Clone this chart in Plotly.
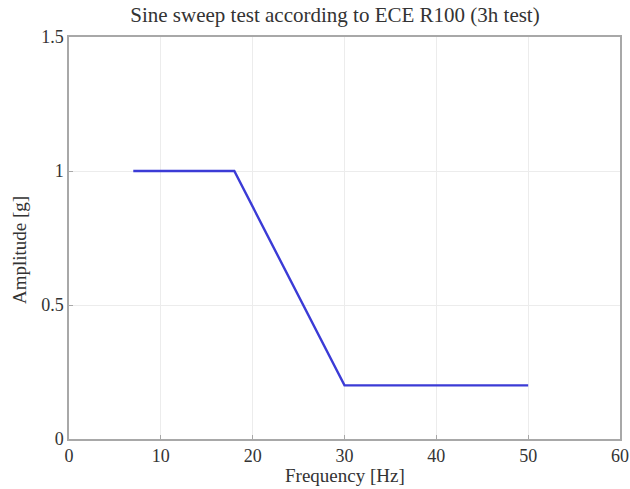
import plotly.graph_objects as go

# Sweep profile breakpoints
frequency_hz = [7, 18, 30, 50]
amplitude_g = [1.0, 1.0, 0.2, 0.2]

x_ticks = [0, 10, 20, 30, 40, 50, 60]
y_ticks = [0, 0.5, 1, 1.5]
y_tick_text = ["0", "0.5", "1", "1.5"]

font_family = "Liberation Serif, Times New Roman, serif"
text_color = "#333333"
tick_size = 18
label_size = 19

fig = go.Figure()
fig.add_trace(go.Scatter(
    x=frequency_hz,
    y=amplitude_g,
    mode="lines",
    line=dict(color="#3b3bd6", width=2.4),
    showlegend=False,
))

axis_common = dict(
    showline=True,
    linecolor="#a8a8a8",
    linewidth=1.5,
    mirror=True,
    showgrid=True,
    gridcolor="#ececec",
    gridwidth=1,
    zeroline=False,
    ticks="inside",
    ticklen=4,
    tickcolor="#a8a8a8",
    automargin=False,
    tickfont=dict(family=font_family, size=tick_size, color=text_color),
)

fig.update_xaxes(range=[0, 60], tickvals=x_ticks, **axis_common)
fig.update_yaxes(range=[0, 1.5], tickvals=y_ticks, ticktext=y_tick_text, **axis_common)

label_font = dict(family=font_family, size=label_size, color=text_color)

fig.update_layout(
    width=630,
    height=489,
    margin=dict(l=69, r=10, t=37, b=50),
    paper_bgcolor="white",
    plot_bgcolor="white",
    title=dict(
        text="Sine sweep test according to ECE R100 (3h test)",
        font=dict(family=font_family, size=21, color=text_color),
        x=335 / 630,
        xanchor="center",
        y=1 - 15 / 489,
        yanchor="middle",
    ),
    annotations=[
        dict(
            text="Frequency [Hz]",
            xref="paper", yref="paper",
            x=0.5, y=-49 / 402,
            xanchor="center", yanchor="bottom",
            showarrow=False, font=label_font,
        ),
        dict(
            text="Amplitude [g]",
            xref="paper", yref="paper",
            x=-50 / 551, y=(439 - 250) / 402,
            xanchor="center", yanchor="middle",
            textangle=-90,
            showarrow=False, font=label_font,
        ),
    ],
)

fig.write_html("out.html")
